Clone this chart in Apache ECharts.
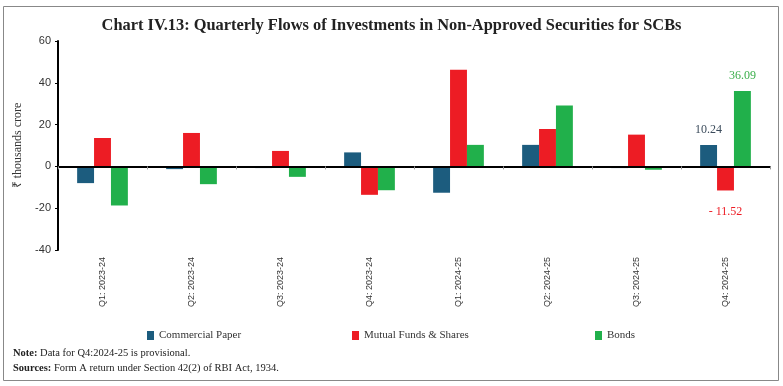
<!DOCTYPE html>
<html><head><meta charset="utf-8">
<script src="https://cdn.jsdelivr.net/npm/echarts@6/dist/echarts.min.js"></script>
<style>html,body{margin:0;padding:0;background:#fff}#c{width:783px;height:386px}</style>
</head><body><div id="c"></div>
<script>
const categories = ['Q1: 2023-24','Q2: 2023-24','Q3: 2023-24','Q4: 2023-24','Q1: 2024-25','Q2: 2024-25','Q3: 2024-25','Q4: 2024-25'];
const commercialPaper = [-8.0, -1.3, -0.8, 6.7, -12.6, 10.3, -0.8, 10.24];
const mutualFunds = [13.6, 16.0, 7.4, -13.6, 46.2, 17.9, 15.2, -11.52];
const bonds = [-18.7, -8.5, -5.0, -11.4, 10.3, 29.1, -1.6, 36.09];
const yTicks = [-40, -20, 0, 20, 40, 60];

const serif = 'Liberation Serif';
const sans = 'Liberation Sans';
const colors = {cp:'#1c5c7e', mf:'#ed1c24', bd:'#21b04b'};

function withLastLabel(arr, color, pos, dist, fmt){
  return arr.map((v,i)=> i===arr.length-1 ? {value:v, label:{show:true, position:pos, distance:dist, color:color, fontFamily:serif, fontSize:12, formatter:fmt}} : v);
}

const legendText = {fontFamily:serif, fontSize:11, color:'#333'};
const chart = echarts.init(document.getElementById('c'), null, {renderer:'canvas'});
chart.setOption({
  animation:false,
  backgroundColor:'#fff',
  title:{text:'Chart IV.13: Quarterly Flows of Investments in Non-Approved Securities for SCBs', left:'center', top:13,
    textStyle:{fontFamily:serif, fontSize:16.4, fontWeight:'bold', color:'#222'}},
  grid:{left:58, right:13, top:41, bottom:136, containLabel:false},
  legend:[
    {data:['Commercial Paper'], left:142, top:325, itemGap:4, itemWidth:7, itemHeight:9, icon:'rect', textStyle:legendText},
    {data:['Mutual Funds & Shares'], left:347, top:325, itemWidth:7, itemHeight:9, icon:'rect', textStyle:legendText},
    {data:['Bonds'], left:590, top:325, itemWidth:7, itemHeight:9, icon:'rect', textStyle:legendText}
  ],
  xAxis:[
    {type:'category', data:categories, position:'bottom', z:5,
      axisLine:{onZero:true, lineStyle:{color:'#000', width:2}},
      axisTick:{show:true, length:3, lineStyle:{color:'#999'}},
      axisLabel:{show:false}},
    {type:'category', data:categories, position:'bottom',
      axisLine:{show:false, onZero:false}, axisTick:{show:false},
      axisLabel:{rotate:90, margin:7, fontFamily:sans, fontSize:9, color:'#333'}}
  ],
  yAxis:{type:'value', min:yTicks[0], max:yTicks[yTicks.length-1], interval:20,
    name:'₹ thousands crore', nameLocation:'middle', nameGap:33,
    nameTextStyle:{fontFamily:serif, fontSize:12, color:'#333'},
    axisLine:{show:true, lineStyle:{color:'#000', width:2}},
    axisTick:{show:true, length:3, lineStyle:{color:'#000'}},
    axisLabel:{fontFamily:sans, fontSize:11, color:'#333', margin:7},
    splitLine:{show:false}},
  series:[
    {name:'Commercial Paper', type:'bar', xAxisIndex:0, barGap:'0%', barCategoryGap:'43%', itemStyle:{color:colors.cp},
      data:withLastLabel(commercialPaper, '#3b4b5b', 'top', 9, p=>p.value.toFixed(2))},
    {name:'Mutual Funds & Shares', type:'bar', xAxisIndex:0, barGap:'0%', barCategoryGap:'43%', itemStyle:{color:colors.mf},
      data:withLastLabel(mutualFunds, '#ed1c24', 'bottom', 15, p=>'- '+Math.abs(p.value).toFixed(2))},
    {name:'Bonds', type:'bar', xAxisIndex:0, barGap:'0%', barCategoryGap:'43%', itemStyle:{color:colors.bd},
      data:withLastLabel(bonds, '#3aae4a', 'top', 9, p=>p.value.toFixed(2))}
  ],
  graphic:[
    {type:'rect', shape:{x:3.5, y:6.5, width:775, height:374}, style:{fill:null, stroke:'#888', lineWidth:1}, silent:true, z:-1},
    {type:'text', left:13, top:348, style:{text:'{b|Note:} Data for Q4:2024-25 is provisional.', rich:{b:{fontWeight:'bold', fontFamily:serif, fontSize:10.5, fill:'#222'}}, fontFamily:serif, fontSize:10.5, fill:'#222'}},
    {type:'text', left:13, top:363, style:{text:'{b|Sources:} Form A return under Section 42(2) of RBI Act, 1934.', rich:{b:{fontWeight:'bold', fontFamily:serif, fontSize:10.5, fill:'#222'}}, fontFamily:serif, fontSize:10.5, fill:'#222'}}
  ]
});
</script></body></html>
